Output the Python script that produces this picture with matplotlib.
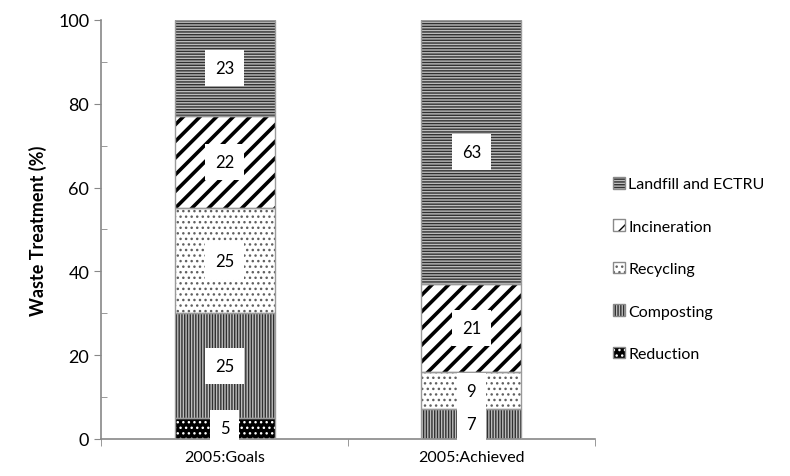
import matplotlib
matplotlib.use("Agg")
import matplotlib.pyplot as plt
import numpy as np

plt.rcParams['font.family'] = ['Lato', 'DejaVu Sans']

categories = ["2005:Goals", "2005:Achieved"]
series = ["Reduction", "Composting", "Recycling", "Incineration", "Landfill and ECTRU"]
reduction = [5, 0]
composting = [25, 7]
recycling = [25, 9]
incineration = [22, 21]
landfill = [23, 63]
values = [reduction, composting, recycling, incineration, landfill]

# fill, hatch, hatch colour, hatch line width per series
styles = [
    ("black", "...", "white", 1.0),
    ("#bdbdbd", "||||||", "#303030", 1.0),
    ("white", "...", "#606060", 1.0),
    ("white", "//", "black", 2.6),
    ("#bdbdbd", "------", "#303030", 1.0),
]

fig = plt.figure(figsize=(7.9, 4.77), dpi=100)
ax = fig.add_axes([0.128, 0.078, 0.625, 0.878])

x = np.arange(len(categories))
width = 0.405
bottom = np.zeros(len(categories))
handles = []
for name, vals, (fc, hatch, hc, hlw) in zip(series, values, styles):
    vals = np.array(vals, dtype=float)
    with plt.rc_context({'hatch.linewidth': hlw, 'hatch.color': hc}):
        ax.bar(x, vals, width, bottom=bottom, color=fc, hatch=hatch,
               edgecolor=hc, linewidth=0, zorder=2)
    ax.bar(x, vals, width, bottom=bottom, fill=False, edgecolor="#9a9a9a",
           linewidth=1.0, zorder=3)
    with plt.rc_context({'hatch.linewidth': min(hlw, 1.6)}):
        h_fill = plt.Rectangle((0, 0), 1, 1, facecolor=fc, hatch=hatch,
                               edgecolor=hc, linewidth=0)
    h_edge = plt.Rectangle((0, 0), 1, 1, fill=False, edgecolor="#8a8a8a",
                           linewidth=1.0)
    handles.append((h_fill, h_edge))
    for xi, v, b in zip(x, vals, bottom):
        if v > 0:
            ax.text(xi, b + v / 2, f"{int(v)}", ha="center", va="center",
                    fontsize=12, zorder=5,
                    bbox=dict(boxstyle="square,pad=0.6", fc="white", ec="none"))
    bottom += vals

ax.set_xlim(-0.5, 1.5)
ax.set_ylim(0, 100)
ax.set_yticks(np.arange(0, 101, 20))
ax.set_yticks(np.arange(10, 100, 20), minor=True)
ax.set_xticks(x)
ax.set_xticklabels(categories, fontsize=11.5)
ax.set_xticks([-0.5, 0.5, 1.5], minor=True)
ax.tick_params(axis="y", which="major", length=5, color="#888888", labelsize=13, direction="out")
ax.tick_params(axis="y", which="minor", length=4, color="#888888", direction="in")
ax.tick_params(axis="x", which="major", length=0, labelsize=11.5, pad=8)
ax.tick_params(axis="x", which="minor", length=5, color="#888888", direction="out")
for s in ["top", "right"]:
    ax.spines[s].set_visible(False)
for s in ["left", "bottom"]:
    ax.spines[s].set_color("#888888")
    ax.spines[s].set_linewidth(1.2)
ax.set_ylabel("Waste Treatment (%)", fontsize=13, fontweight="bold", labelpad=8)

leg = fig.legend(handles[::-1], series[::-1], loc="center left",
                 bbox_to_anchor=(0.758, 0.434), frameon=False, fontsize=11.5,
                 handlelength=0.75, handleheight=0.75, handletextpad=0.2,
                 labelspacing=1.75)

fig.savefig("out.png", dpi=100)
